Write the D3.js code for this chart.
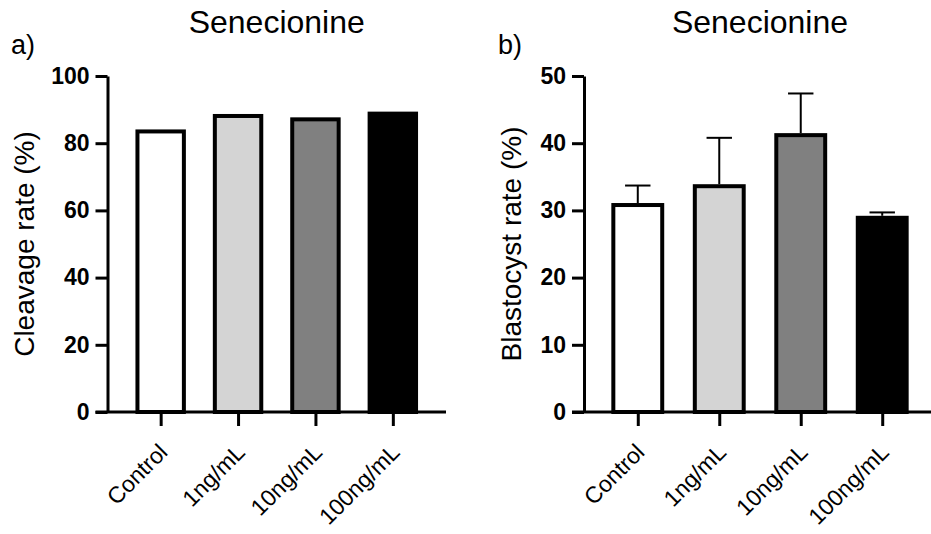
<!DOCTYPE html>
<html>
<head>
<meta charset="utf-8">
<script src="https://cdn.jsdelivr.net/npm/d3@7"></script>
<style>
  body { margin: 0; background: #fff; }
  svg { display: block; font-family: "Liberation Sans", Arial, sans-serif; }
  .axis path, .axis line { stroke: #000; stroke-width: 3; }
  .axis text { fill: #000; }
</style>
</head>
<body>
<svg id="chart" width="931" height="534"></svg>
<script>
// values
const groups = ['Control', '1ng/mL', '10ng/mL', '100ng/mL'];
const fills = ['#ffffff', '#d4d4d4', '#808080', '#000000'];

const cleavageRate = [83.5, 88.1, 87.1, 88.8];
const cleavageTicks = [0, 20, 40, 60, 80, 100];

const blastocystRate = [30.8, 33.6, 41.2, 28.9];
const blastocystErr = [2.9, 7.2, 6.2, 0.8];   // upper SEM only
const blastocystTicks = [0, 10, 20, 30, 40, 50];

function BarPanel(svg, opts) {
  let x = d3.scalePoint()
    .domain(groups)
    .range([opts.left, opts.right])
    .padding(opts.pad);
  let step = x.step();
  let barW = step * 0.6;

  let y = d3.scaleLinear()
    .domain([0, opts.max])
    .range([412, 76]);

  let g = svg.append('g');

  // bars
  g.selectAll('rect.bar')
    .data(opts.values)
    .enter().append('rect')
      .attr('class', 'bar')
      .attr('x', function(d, i) { return x(groups[i]) - barW / 2; })
      .attr('y', function(d) { return y(d); })
      .attr('width', barW)
      .attr('height', function(d) { return y(0) - y(d); })
      .attr('fill', function(d, i) { return fills[i]; })
      .attr('stroke', '#000')
      .attr('stroke-width', 4);

  // error bars (upper only)
  if (opts.errors) {
    let capW = barW * 0.52;
    let eb = g.selectAll('g.err')
      .data(opts.values)
      .enter().append('g')
        .attr('class', 'err');
    eb.append('line')
      .attr('x1', function(d, i) { return x(groups[i]); })
      .attr('x2', function(d, i) { return x(groups[i]); })
      .attr('y1', function(d) { return y(d) - 2; })
      .attr('y2', function(d, i) { return y(d + opts.errors[i]); })
      .attr('stroke', '#000').attr('stroke-width', 2);
    eb.append('line')
      .attr('x1', function(d, i) { return x(groups[i]) - capW / 2; })
      .attr('x2', function(d, i) { return x(groups[i]) + capW / 2; })
      .attr('y1', function(d, i) { return y(d + opts.errors[i]); })
      .attr('y2', function(d, i) { return y(d + opts.errors[i]); })
      .attr('stroke', '#000').attr('stroke-width', 2);
  }

  // y axis
  g.append('g')
    .attr('class', 'axis')
    .attr('transform', 'translate(' + opts.left + ',0)')
    .call(d3.axisLeft(y).tickValues(opts.ticks).tickSize(12).tickSizeOuter(0).tickPadding(6))
    .selectAll('text')
      .style('font-size', '23px')
      .style('font-weight', 'bold');

  // x axis
  let xa = g.append('g')
    .attr('class', 'axis')
    .attr('transform', 'translate(0,' + y(0) + ')')
    .call(d3.axisBottom(x).tickSize(14).tickSizeOuter(0));
  xa.select('.domain').attr('d', 'M' + (opts.left - 12) + ',0H' + opts.right);
  xa.selectAll('text')
    .style('font-size', '23px')
    .style('text-anchor', 'end')
    .attr('x', 0).attr('y', 0).attr('dy', '0.35em')
    .attr('transform', 'translate(2,36) rotate(-45)');

  // y title
  svg.append('text')
    .attr('transform', 'translate(' + opts.titleX + ',' + y(opts.max / 2) + ') rotate(-90)')
    .attr('text-anchor', 'middle')
    .attr('dy', '0.35em')
    .style('font-size', '28px')
    .text(opts.yTitle);

  // panel title
  svg.append('text')
    .attr('x', (opts.left + opts.right) / 2)
    .attr('y', 33)
    .attr('text-anchor', 'middle')
    .style('font-size', '32px')
    .text('Senecionine');

  svg.append('text')
    .attr('x', opts.tagX)
    .attr('y', 54)
    .style('font-size', '27px')
    .text(opts.tag);
}

let svg = d3.select('#chart');

BarPanel(svg, {
  left: 107.5, right: 446, pad: 0.687, max: 100,
  values: cleavageRate, ticks: cleavageTicks,
  yTitle: 'Cleavage rate (%)', titleX: 24, tag: 'a)', tagX: 11
});

BarPanel(svg, {
  left: 584, right: 936, pad: 0.66, max: 50,
  values: blastocystRate, errors: blastocystErr, ticks: blastocystTicks,
  yTitle: 'Blastocyst rate (%)', titleX: 511, tag: 'b)', tagX: 498
});
</script>
</body>
</html>
